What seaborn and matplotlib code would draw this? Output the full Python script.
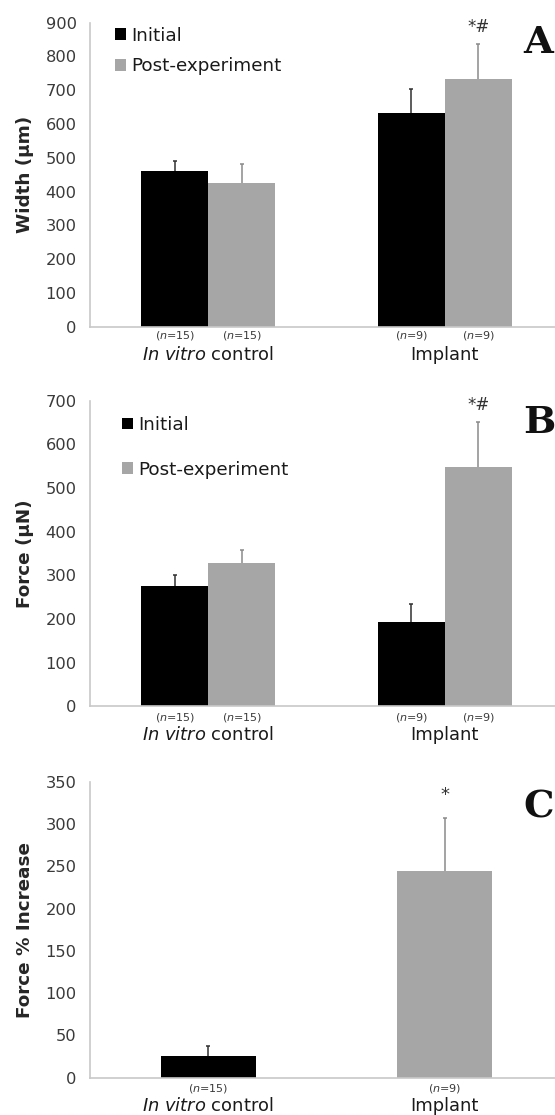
import numpy as np
import pandas as pd
import matplotlib
matplotlib.use("Agg")
import matplotlib.pyplot as plt
import seaborn as sns
from matplotlib.patches import Patch

# ---------------- data ----------------
groups = ["In vitro control", "Implant"]
group_labels = [r"$\mathit{In\ vitro}$ control", "Implant"]
series = ["Initial", "Post-experiment"]
n_initial = [15, 9]
n_post = [15, 9]

width_initial = [461, 632]
width_initial_err = [29, 72]
width_post = [426, 732]
width_post_err = [55, 105]

force_initial = [276, 192]
force_initial_err = [25, 42]
force_post = [329, 549]
force_post_err = [29, 103]

pct_increase = [25.6, 244.8]
pct_increase_err = [11.8, 61.8]
pct_n = [15, 9]

width_ticks = list(range(0, 901, 100))
force_ticks = list(range(0, 701, 100))
pct_ticks = list(range(0, 351, 50))

# ---------------- style ----------------
BLACK = "#000000"
GRAY = "#a6a6a6"
TXT = "#3a3a3a"
SPINE = "#c8c8c8"

sns.set_theme(style="white")
plt.rcParams["font.family"] = ["DejaVu Sans"]
plt.rcParams["mathtext.fontset"] = "dejavusans"

W, H = 555, 1115
fig = plt.figure(figsize=(W / 100, H / 100), dpi=100)

XL = (-0.5, 1.466)
left = 90 / W
width = (W - 90) / W


def axes_at(top_px, bottom_px):
    return fig.add_axes([left, 1 - bottom_px / H, width, (bottom_px - top_px) / H])


def style_axes(ax, ticks, ylabel, ytick_len=0.0):
    ax.set_xlim(*XL)
    ax.set_ylim(ticks[0], ticks[-1])
    ax.set_yticks(ticks)
    ax.set_yticklabels([str(t) for t in ticks])
    ax.set_xticks([0, 1])
    ax.set_xticklabels(["", ""])
    ax.tick_params(axis="x", which="major", length=0)
    ax.tick_params(axis="y", length=ytick_len, width=1, color=SPINE,
                   pad=9.6 - ytick_len, labelsize=11.7, labelcolor=TXT)
    for s in ["top", "right"]:
        ax.spines[s].set_visible(False)
    for s in ["left", "bottom"]:
        ax.spines[s].set_color(SPINE)
        ax.spines[s].set_linewidth(1.2)
    ax.set_xlabel("")
    ax.set_ylabel(ylabel, fontsize=13.2, fontweight="bold", color="#262626", va="center")
    ax.yaxis.set_label_coords(-65 / 465, 0.5)
    for i, lab in enumerate(group_labels):
        ax.annotate(lab, xy=(i, 0), xycoords=("data", "axes fraction"),
                    xytext=(0, -20.4), textcoords="offset points",
                    ha="center", va="center", fontsize=12.9, color="#1a1a1a")


def n_label(ax, x, n, off=-6.8):
    ax.annotate(r"($\mathit{n}$=%d)" % n, xy=(x, 0), xycoords=("data", "axes fraction"),
                xytext=(0, off), textcoords="offset points",
                ha="center", va="center", fontsize=8, color=TXT)


def up_errorbar(ax, xs, hs, errs, color):
    eb = ax.errorbar(xs, hs, yerr=[np.zeros(len(hs)), errs], fmt="none",
                     ecolor=color, elinewidth=1.1, capsize=1.6, capthick=1.1)
    caps = eb[1]
    if len(caps) > 1:
        caps[0].set_visible(False)


def paired_panel(ax, init, init_err, post, post_err, ticks, ylabel,
                 leg_anchor, leg_spacing, star_off, n_off):
    df = pd.DataFrame({
        "group": groups + groups,
        "series": [series[0]] * len(groups) + [series[1]] * len(groups),
        "value": list(init) + list(post),
    })
    sns.barplot(data=df, x="group", y="value", hue="series", order=groups,
                hue_order=series, palette=[BLACK, GRAY], width=0.566, gap=0,
                saturation=1, errorbar=None, legend=False, linewidth=0, ax=ax)
    errs = [init_err, post_err]
    ns = [n_initial, n_post]
    ecols = ["#303030", "#8a8a8a"]
    last = None
    conts = list(ax.containers)
    for k, cont in enumerate(conts):
        ps = sorted(cont.patches, key=lambda p: p.get_x())
        xs = [p.get_x() + p.get_width() / 2 for p in ps]
        hs = [p.get_height() for p in ps]
        up_errorbar(ax, xs, hs, errs[k], ecols[k])
        for x, n in zip(xs, ns[k]):
            n_label(ax, x, n, n_off)
        last = (xs[-1], hs[-1] + errs[k][-1])
    ax.annotate("*#", xy=last, xycoords="data", xytext=(0, star_off),
                textcoords="offset points", ha="center", va="center",
                fontsize=12, color="#333333")
    style_axes(ax, ticks, ylabel)
    handles = [Patch(facecolor=BLACK, edgecolor="none"), Patch(facecolor=GRAY, edgecolor="none")]
    ax.legend(handles, series, loc="upper left", bbox_to_anchor=leg_anchor,
              frameon=False, fontsize=13.2, handlelength=0.62, handleheight=0.62,
              handletextpad=0.25, labelspacing=leg_spacing, borderpad=0,
              borderaxespad=0, labelcolor="#1a1a1a")


# Panel A
axA = axes_at(22.7, 326.7)
paired_panel(axA, width_initial, width_initial_err, width_post, width_post_err,
             width_ticks, "Width (µm)", (25 / 465, 0.987), 0.7, 12.3, -6.2)

# Panel B
axB = axes_at(400.7, 706.3)
paired_panel(axB, force_initial, force_initial_err, force_post, force_post_err,
             force_ticks, "Force (µN)", (32 / 465, 0.95), 1.45, 12.0, -7.8)

# Panel C
axC = axes_at(781.7, 1077.7)
dfc = pd.DataFrame({"group": groups, "value": pct_increase})
sns.barplot(data=dfc, x="group", y="value", hue="group", order=groups,
            hue_order=groups, palette=[BLACK, GRAY], width=0.4, saturation=1,
            errorbar=None, legend=False, linewidth=0, ax=axC)
ecolsC = ["#303030", "#8a8a8a"]
topC = None
bars = [p for cont in list(axC.containers) for p in cont.patches]
for p in bars:
    x = p.get_x() + p.get_width() / 2
    gi = int(round(x))
    h = p.get_height()
    up_errorbar(axC, [x], [h], [pct_increase_err[gi]], ecolsC[gi])
    n_label(axC, x, pct_n[gi], -7.5)
    if gi == 1:
        topC = (x, h + pct_increase_err[gi])
axC.annotate("*", xy=topC, xycoords="data", xytext=(0, 17.0),
             textcoords="offset points", ha="center", va="center",
             fontsize=13, color="#333333")
style_axes(axC, pct_ticks, "Force % Increase", ytick_len=3.0)
axC.set_xticks([0.5], minor=True)
axC.tick_params(axis="x", which="minor", length=3.5, width=1, color=SPINE, direction="out")

# Panel letters
for letter, base in [("A", 53), ("B", 433), ("C", 818)]:
    fig.text(523 / W, 1 - base / H, letter, ha="left", va="baseline",
             fontsize=27.6, fontweight="bold", family="DejaVu Serif", color="#111111")

fig.savefig("out.png", dpi=100)
